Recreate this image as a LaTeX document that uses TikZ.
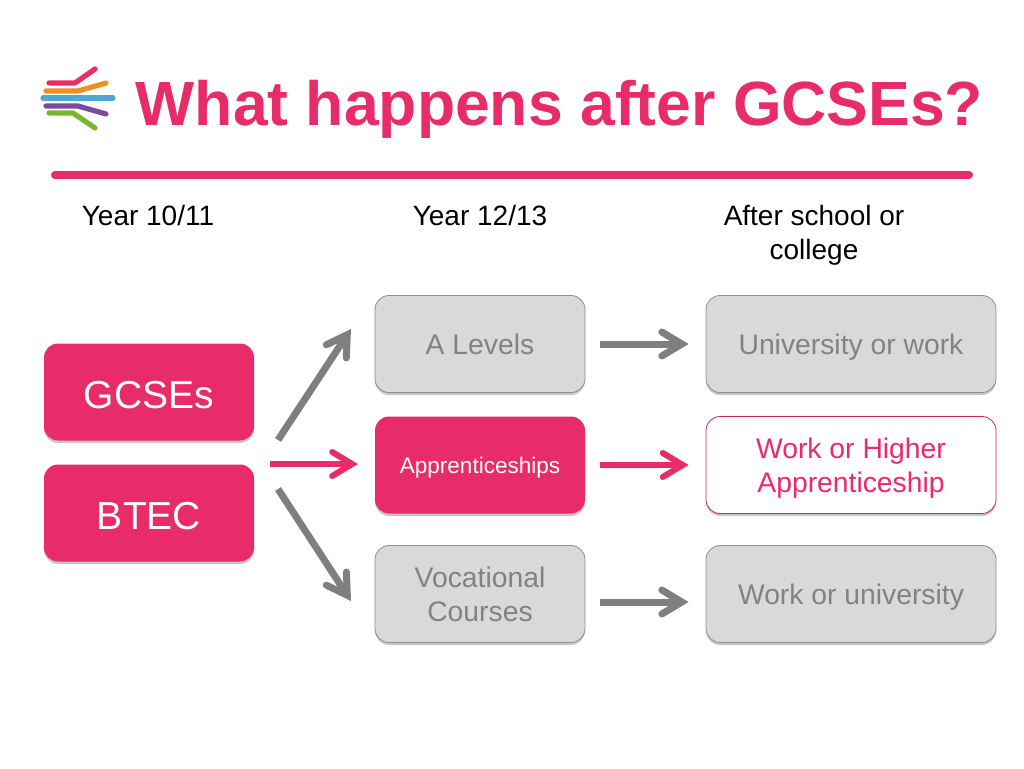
\documentclass[tikz,border=0pt]{standalone}
\usepackage{fontspec}
\setmainfont{Liberation Sans}
\usepackage{tikz}
\usetikzlibrary{positioning,calc,arrows.meta,shadows}
\definecolor{hotpink}{HTML}{E82C6A}
\definecolor{boxgray}{HTML}{D9D9D9}
\definecolor{edgegray}{HTML}{8E8E8E}
\definecolor{textgray}{HTML}{828282}
\definecolor{arrowgray}{HTML}{7F7F7F}
\definecolor{logoorange}{HTML}{F0901E}
\definecolor{logoblue}{HTML}{4FA8D2}
\definecolor{logopurple}{HTML}{7B4A9E}
\definecolor{logogreen}{HTML}{7AB52E}
\tikzset{>={Straight Barb[length=20pt,width=24pt,line cap=round,line join=miter]},
  box/.style={rectangle,rounded corners=14pt,minimum height=97pt,align=center,text depth=0pt,
    inner sep=0pt,drop shadow={shadow xshift=0pt,shadow yshift=-2.5pt,opacity=.22,fill=black}},
  small/.style={box,minimum width=210pt},
  wide/.style={box,minimum width=290pt},
  graybox/.style={fill=boxgray,draw=edgegray,line width=.8pt,text=textgray,font=\fontsize{28.3}{34}\selectfont},
  pinkbox/.style={fill=hotpink,text=white},
  bigbox/.style={small,pinkbox,text height=32pt,font=\fontsize{39}{44}\selectfont},
  whitebox/.style={fill=white,draw=hotpink!85!black,line width=.8pt,text=hotpink,font=\fontsize{28.3}{34}\selectfont},
  head/.style={inner sep=0pt,align=center,font=\fontsize{28}{34}\selectfont},
  grayarrow/.style={->,draw=arrowgray,line width=7pt},
  pinkarrow/.style={->,draw=hotpink,line width=6pt},
  logoline/.style={line width=5.2pt,line cap=round,line join=round}}

\begin{document}
\begin{tikzpicture}[x=1pt,y=-1pt]
\useasboundingbox (0,0) rectangle (1024,768);
% logo
\draw[logoline,hotpink] (49,83) -- (75,83) -- (95,69);
\draw[logoline,logoorange] (46,91) -- (78,91) -- (106,83);
\draw[logoline,logoblue] (43,98) -- (113,98);
\draw[logoline,logopurple] (46,106) -- (78,106) -- (106,114);
\draw[logoline,logogreen] (49,113) -- (73,113) -- (95,128);
% title
\node[inner sep=0pt,anchor=base,text=hotpink,font=\fontsize{62.5}{70}\selectfont\bfseries] (title) at (559.5,125) {What happens after GCSEs?};
\draw[hotpink,line width=8pt,line cap=round] (55,175) -- (969,175);
% column heads
\node[head] (h1) at (148,215) {Year 10/11};
\node[head] (h2) at (480,215) {Year 12/13};
\node[head] (h3) at (814,235) {After school or\\college};
% left
\node[bigbox] (gcse) at (149,392) {GCSEs};
\node[bigbox] (btec) at (149,513) {BTEC};
% middle
\node[small,graybox] (alevels) at (480,344) {A Levels};
\node[small,pinkbox,font=\fontsize{22.5}{27}\selectfont] (appr) at (480,465) {Apprenticeships};
\node[small,graybox] (voc) at (480,594) {Vocational\\Courses};
% right
\node[wide,graybox] (uni) at (851,344) {University or work};
\node[wide,whitebox] (work) at (851,465) {Work or Higher\\Apprenticeship};
\node[wide,graybox] (wuni) at (851,594) {Work or university};
% fan of arrows
\coordinate (up) at (278,440);
\coordinate (mid) at (270,464);
\coordinate (down) at (278,489);
\draw[grayarrow] (up) -- (351,329);
\draw[pinkarrow] (mid) -- (358,464);
\draw[grayarrow] (down) -- (351,601);
% arrows to the right
\draw[grayarrow,shorten <=15pt,shorten >=17pt] (alevels) -- (uni);
\draw[pinkarrow,shorten <=15pt,shorten >=17pt] (appr) -- (work);
\coordinate (vocout) at (voc.east |- 0,602);
\coordinate (wuniin) at (wuni.west |- 0,602);
\draw[grayarrow,shorten <=15pt,shorten >=17pt] (vocout) -- (wuniin);
\end{tikzpicture}
\end{document}
